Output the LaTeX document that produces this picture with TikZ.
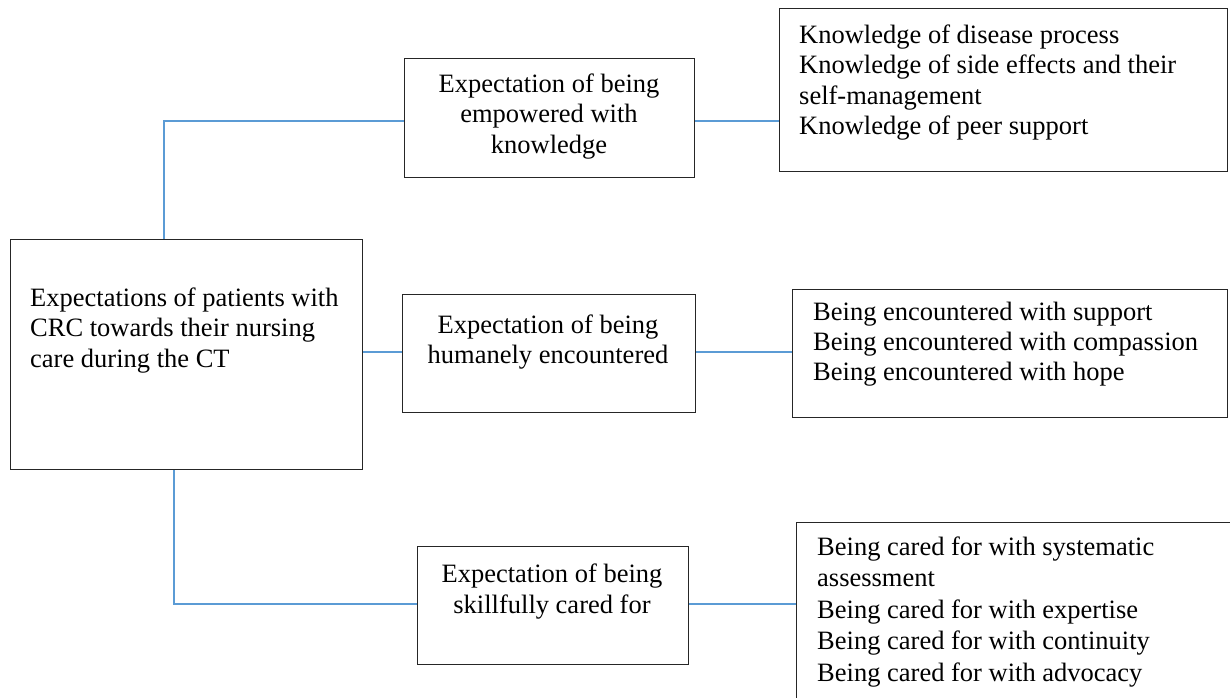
\documentclass[tikz,border=0pt]{standalone}
\usepackage{fontspec}
\setmainfont{Liberation Serif}
\definecolor{lineblue}{RGB}{91,155,213}
\begin{document}
\begin{tikzpicture}[x=1pt,y=-1pt,
  box/.style={draw=black!85, line width=1.3pt, inner sep=0pt, anchor=north west},
  conn/.style={draw=lineblue, line width=1.4pt},
  txt/.style={inner sep=0pt, font=\fontsize{26.5}{#1}\selectfont},
  txt/.default=30.5]
\useasboundingbox (0,0) rectangle (1230,697);
\clip (0,0) rectangle (1230,697);
% boxes
\node[box, minimum width=352, minimum height=230] (main) at (10,239) {};
\node[box, minimum width=290, minimum height=119] (e1) at (404,58) {};
\node[box, minimum width=448, minimum height=163] (k1) at (779,8) {};
\node[box, minimum width=293, minimum height=118] (e2) at (402,294) {};
\node[box, minimum width=435, minimum height=128] (k2) at (792,289) {};
\node[box, minimum width=271, minimum height=118] (e3) at (417,546) {};
\node[box, minimum width=480, minimum height=220] (k3) at (796,522) {};
% texts
\node[txt, anchor=base west] (tmain) at (30,306) {\begin{tabular}[t]{@{}l@{}}Expectations of patients with\\CRC towards their nursing\\care during the CT\end{tabular}};
\node[txt, anchor=base] (te1) at (549,92) {\begin{tabular}[t]{@{}c@{}}Expectation of being\\empowered with\\knowledge\end{tabular}};
\node[txt=30, anchor=base] (te2) at (548,333) {\begin{tabular}[t]{@{}c@{}}Expectation of being\\humanely encountered\end{tabular}};
\node[txt=31, anchor=base] (te3) at (552,582) {\begin{tabular}[t]{@{}c@{}}Expectation of being\\skillfully cared for\end{tabular}};
\node[txt=30.5, anchor=base west] (tk1) at (799,43) {\begin{tabular}[t]{@{}l@{}}Knowledge of disease process\\Knowledge of side effects and their\\self-management\\Knowledge of peer support\end{tabular}};
\node[txt=30, anchor=base west] (tk2) at (813,320) {\begin{tabular}[t]{@{}l@{}}Being encountered with support\\Being encountered with compassion\\Being encountered with hope\end{tabular}};
\node[txt=31.5, anchor=base west] (tk3) at (817,555) {\begin{tabular}[t]{@{}l@{}}Being cared for with systematic\\assessment\\Being cared for with expertise\\Being cared for with continuity\\Being cared for with advocacy\end{tabular}};
% connectors
\coordinate (c1) at (164,121);
\coordinate (c2) at (0,352);
\coordinate (c3) at (174,604);
\draw[conn] (c1 |- main.north) -- (c1) -- (c1 -| e1.west);
\draw[conn] (c1 -| e1.east) -- (c1 -| k1.west);
\draw[conn] (c2 -| main.east) -- (c2 -| e2.west);
\draw[conn] (c2 -| e2.east) -- (c2 -| k2.west);
\draw[conn] (c3 |- main.south) -- (c3) -- (c3 -| e3.west);
\draw[conn] (c3 -| e3.east) -- (c3 -| k3.west);
\end{tikzpicture}
\end{document}
